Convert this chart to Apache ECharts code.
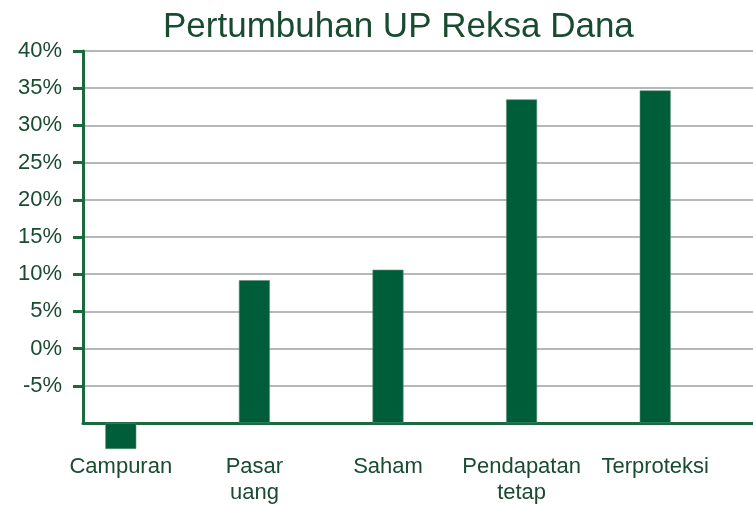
<!DOCTYPE html>
<html>
<head>
<meta charset="utf-8">
<title>Pertumbuhan UP Reksa Dana</title>
<script src="https://cdn.jsdelivr.net/npm/echarts@6/dist/echarts.min.js"></script>
<style>
  html, body { margin: 0; padding: 0; background: #fff; }
  #chart { width: 753px; height: 506px; }
</style>
</head>
<body>
<div id="chart"></div>
<script>
// values
const categories = ['Campuran', 'Pasar\nuang', 'Saham', 'Pendapatan\ntetap', 'Terproteksi'];
const growth = [-13.5, 9.2, 10.6, 33.5, 34.7]; // % on the drawn scale
const yTicks = [-5, 0, 5, 10, 15, 20, 25, 30, 35, 40];
const baseline = -10; // bars start at the bottom axis line, not at 0%

const font = '"Liberation Sans", Arial, sans-serif';
const textColor = '#184b30';
const barColor = '#005d3a';
const axisColor = '#1b6a3e';
const gridColor = '#b5b8bb';

const chart = echarts.init(document.getElementById('chart'));

chart.setOption({
  animation: false,
  textStyle: { fontFamily: font },
  title: {
    text: 'Pertumbuhan UP Reksa Dana',
    left: 158,
    top: 5,
    textStyle: { color: textColor, fontSize: 35, fontWeight: 'normal', fontFamily: font }
  },
  grid: [
    // grid 0 holds the bars, grid 1 holds the scale and grid lines
    { left: 54, right: 31, top: 51, bottom: 83, outerBoundsMode: 'none' },
    { left: 83, right: 0, top: 51, bottom: 83, outerBoundsMode: 'none' }
  ],
  xAxis: [
    {
      gridIndex: 0,
      type: 'category',
      data: categories,
      axisLine: { show: false },
      axisTick: { show: false },
      splitLine: { show: false },
      axisLabel: {
        interval: 0,
        color: textColor,
        fontSize: 22,
        lineHeight: 26,
        margin: 31,
        fontFamily: font
      }
    },
    {
      gridIndex: 1,
      type: 'value',
      min: 0,
      max: 1,
      axisLine: { show: true, onZero: false, lineStyle: { color: axisColor, width: 3 } },
      axisTick: { show: false },
      axisLabel: { show: false },
      splitLine: { show: false }
    }
  ],
  yAxis: [
    { gridIndex: 0, type: 'value', min: 0, max: 40 - baseline, show: false },
    {
      gridIndex: 1,
      type: 'value',
      min: baseline,
      max: 40,
      interval: 5,
      axisLine: { show: true, onZero: false, lineStyle: { color: axisColor, width: 3 } },
      axisTick: {
        show: true,
        length: 10,
        customValues: yTicks,
        lineStyle: { color: axisColor, width: 3 }
      },
      axisLabel: {
        customValues: yTicks,
        formatter: '{value}%',
        color: textColor,
        fontSize: 22,
        margin: 21,
        fontFamily: font
      },
      splitLine: { show: true, lineStyle: { color: gridColor, width: 2 } }
    }
  ],
  series: [
    {
      type: 'bar',
      xAxisIndex: 0,
      yAxisIndex: 0,
      data: growth.map(v => v - baseline),
      barWidth: 31,
      clip: false,
      itemStyle: { color: barColor, borderColor: '#5c8f74', borderWidth: 0.6 }
    }
  ]
});
</script>
</body>
</html>
